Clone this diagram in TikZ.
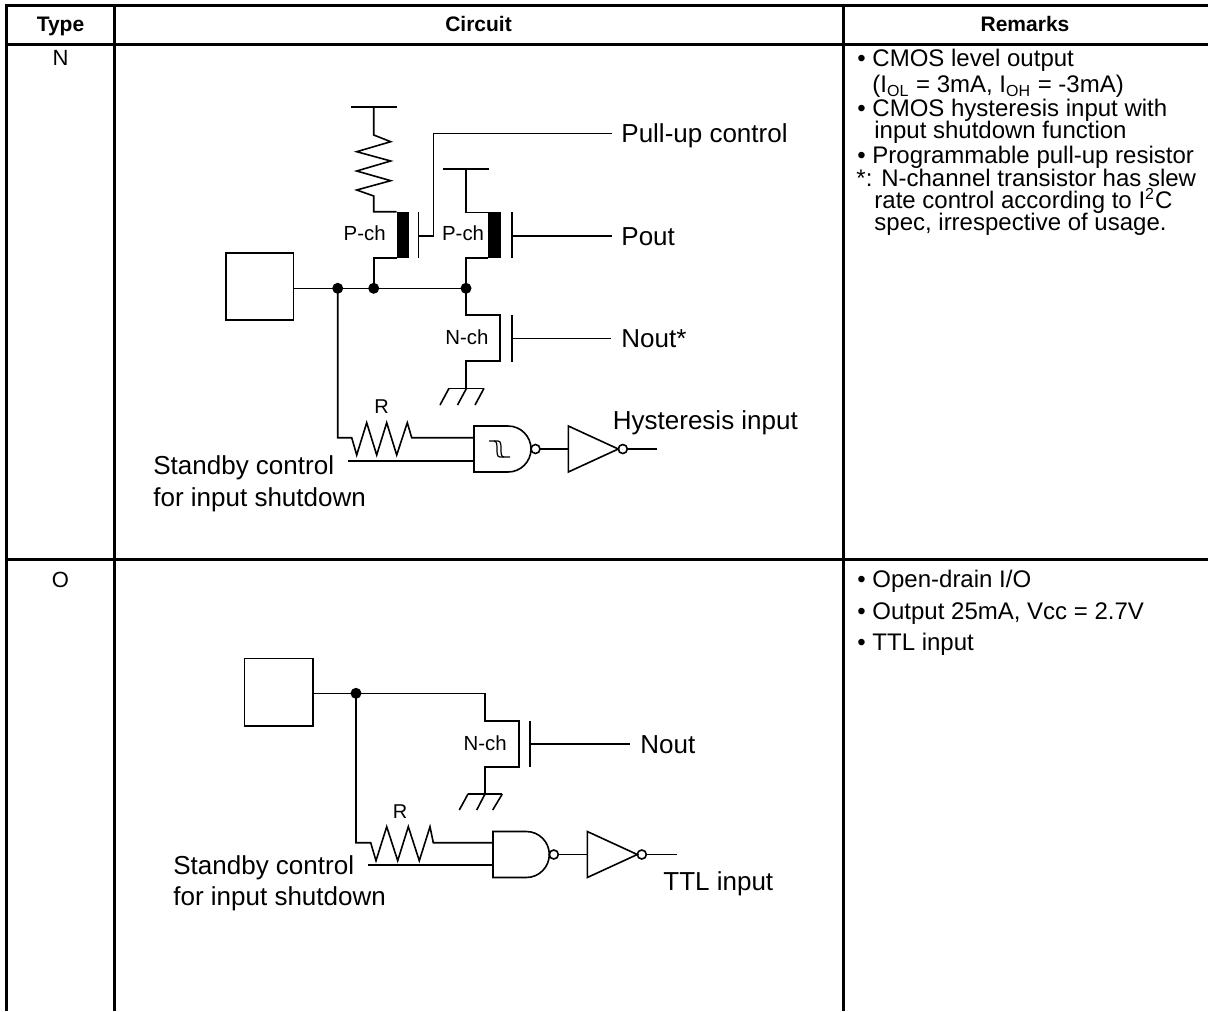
\documentclass[tikz,border=0pt]{standalone}
\usepackage{fontspec}
\setmainfont{Liberation Sans}
\begin{document}
\begin{tikzpicture}[x=0.5pt,y=-0.5pt,
  tbl/.style={line width=1.5pt},
  wire/.style={line width=0.8pt},
  barfill/.style={fill=black},
  jdot/.style={fill=black},
  lbl/.style={font=\fontsize{13}{15}\selectfont, inner sep=0pt, anchor=base west},
  smalllbl/.style={font=\fontsize{10.2}{12}\selectfont, inner sep=0pt, anchor=base west},
  rlbl/.style={font=\fontsize{10}{12}\selectfont, inner sep=0pt, anchor=base},
  rem/.style={font=\fontsize{12}{14}\selectfont, inner sep=0pt, anchor=base west},
  hdr/.style={font=\bfseries\fontsize{10.5}{12}\selectfont, inner sep=0pt, anchor=base},
  rowlbl/.style={font=\fontsize{11}{13}\selectfont, inner sep=0pt, anchor=base},
  hys/.style={line width=0.6pt},
]
\useasboundingbox (0,0) rectangle (1208,1011);

% ---------------- table ----------------
\draw[tbl] (6.5,1011) -- (6.5,6) -- (1208,6);
\draw[tbl] (6.5,44.5) -- (1208,44.5);
\draw[tbl] (6.5,559) -- (1208,559);
\draw[tbl] (114,6) -- (114,1011);
\draw[tbl] (843,6) -- (843,1011);

\node[hdr] (hType) at (60.5,32) {Type};
\node[hdr] (hCirc) at (478.5,32) {Circuit};
\node[hdr] (hRem) at (1025,32) {Remarks};
\node[rowlbl] (rowN) at (60.5,66) {N};
\node[rowlbl] (rowO) at (60.5,587) {O};

% ---------------- remarks ----------------
\node[rem] (r1) at (857,67) {\textbullet\ CMOS level output};
\node[rem] (r2) at (872,92.5) {(I\textsubscript{OL} = 3mA, I\textsubscript{OH} = -3mA)};
\node[rem] (r3) at (857,116.5) {\textbullet\ CMOS hysteresis input with};
\node[rem] (r4) at (874,138.5) {input shutdown function};
\node[rem] (r5) at (857,163) {\textbullet\ Programmable pull-up resistor};
\node[rem] (r6) at (856,186.5) {*: N-channel transistor has slew};
\node[rem] (r7) at (874,208.5) {rate control according to I\textsuperscript{2}C};
\node[rem] (r8) at (874,230.5) {spec, irrespective of usage.};

\node[rem] (s1) at (857,587) {\textbullet\ Open-drain I/O};
\node[rem] (s2) at (857,619) {\textbullet\ Output 25mA, Vcc = 2.7V};
\node[rem] (s3) at (857,650.5) {\textbullet\ TTL input};

% ---------------- circuit N ----------------
\draw[wire] (226,252.7) rectangle (293.3,320);
\coordinate (padN) at (293.3,288.3);
\coordinate (j1) at (337.7,288.3);
\coordinate (j2) at (373.7,288.3);
\coordinate (j3) at (466,288.3);
\draw[wire] (padN) -- (j3);

% pull-up resistor + P-ch 1
\draw[wire] (351,107.3) -- (396.7,107.3);
\draw[wire] (373.7,107.3) -- (373.7,135) -- (390.7,141.7) -- (356.7,151.7) -- (390.7,161)
  -- (356.7,171) -- (390.7,180.7) -- (356.7,190) -- (373.7,196) -- (373.7,211.7) -- (396.7,211.7);
\fill[barfill] (396.7,211.7) rectangle (409,257.7);
\draw[wire] (396.7,257.7) -- (373.7,257.7) -- (j2);
\draw[wire] (418.3,212) -- (418.3,258);
\draw[wire] (418.3,236) -- (433.3,236) -- (433.3,133.3) -- (611.7,133.3);
\node[smalllbl] (pch1) at (343.3,240) {P-ch};

% P-ch 2
\draw[wire] (443.3,169) -- (489,169);
\draw[wire] (466,169) -- (466,212.3) -- (488.3,212.3);
\fill[barfill] (488.3,212.3) rectangle (501,258);
\draw[wire] (488.3,258) -- (466,258) -- (j3);
\draw[wire] (511.7,212) -- (511.7,258);
\draw[wire] (511.7,235.7) -- (611.7,235.7);
\node[smalllbl] (pch2) at (441.7,240) {P-ch};

% N-ch
\draw[wire] (j3) -- (466,315) -- (500,315) -- (500,361) -- (466,361) -- (466,388.3);
\draw[wire] (449,388.3) -- (484,388.3);
\draw[wire] (449,388.3) -- (440,405);
\draw[wire] (466.5,388.3) -- (457.5,405);
\draw[wire] (484,388.3) -- (475,405);
\draw[wire] (511.7,315) -- (511.7,361.7);
\draw[wire] (511.7,338.3) -- (611,338.3);
\node[smalllbl] (nch1) at (445,344) {N-ch};

% input path
\draw[wire] (j1) -- (337.7,437.7) -- (351.7,437.7) -- (356.7,455) -- (366.7,422.7) -- (376.7,455)
  -- (386.7,422.7) -- (396.7,455) -- (407.3,422.7) -- (411.7,437.7) -- (474,437.7);
\node[rlbl] (rN) at (381.7,413.3) {R};
\draw[wire] (348.3,461) -- (474,461);
% NAND with hysteresis
\draw[wire] (474,426) -- (508,426) arc[start angle=90,end angle=-90,radius=11.5pt] -- (474,472) -- cycle;
\draw[hys] (489,441) -- (494,441) .. controls (500,441) and (494,457) .. (500,457) -- (504,457);
\draw[hys] (494,441) -- (498,441) .. controls (504,441) and (498,457) .. (504,457) -- (510,457);
\draw[wire] (535.5,449) circle[radius=2.25pt];
\draw[wire] (540,449) -- (568.3,449);
\draw[wire] (568.3,426) -- (618.3,449) -- (568.3,472) -- cycle;
\draw[wire] (622.8,449) circle[radius=2.25pt];
\draw[wire] (627.3,449) -- (656.7,449);

\fill[jdot] (j1) circle[radius=2.75pt];
\fill[jdot] (j2) circle[radius=2.75pt];
\fill[jdot] (j3) circle[radius=2.75pt];

\node[lbl] (puc) at (621,142) {Pull-up control};
\node[lbl] (pout) at (621,245) {Pout};
\node[lbl] (nout1) at (621,347.5) {Nout*};
\node[lbl] (hyst) at (612.5,429.3) {Hysteresis input};
\node[lbl] (sb1) at (153,474) {Standby control};
\node[lbl] (sb1b) at (153,506) {for input shutdown};

% ---------------- circuit O ----------------
\draw[wire] (244.3,658.3) rectangle (312.7,726);
\coordinate (padO) at (312.7,693.3);
\coordinate (k1) at (356,693.3);
\draw[wire] (padO) -- (485,693.3) -- (485,721) -- (519,721) -- (519,766.7) -- (485,766.7) -- (485,794);
\draw[wire] (468,794) -- (502.3,794);
\draw[wire] (468,794) -- (459.3,810);
\draw[wire] (485,794) -- (476.7,810);
\draw[wire] (502.3,794) -- (492.7,810);
\draw[wire] (530,721) -- (530,766.7);
\draw[wire] (530,744) -- (630,744);
\node[smalllbl] (nch2) at (463.3,750) {N-ch};

\draw[wire] (k1) -- (356,842.7) -- (370.7,842.7) -- (376,860.7) -- (386.7,826.7) -- (397.7,860.7)
  -- (408.3,826.7) -- (419.3,860.7) -- (430,826.7) -- (433.3,842.7) -- (493,842.7);
\node[rlbl] (rO) at (400,818.3) {R};
\draw[wire] (368.3,865) -- (493,865);
\draw[wire] (493,831.5) -- (526.3,831.5) arc[start angle=90,end angle=-90,radius=11.5pt] -- (493,877.5) -- cycle;
\draw[wire] (553.8,854.5) circle[radius=2.25pt];
\draw[wire] (558.3,854.5) -- (587.3,854.5);
\draw[wire] (587.3,831.5) -- (637.3,854.5) -- (587.3,877.5) -- cycle;
\draw[wire] (641.8,854.5) circle[radius=2.25pt];
\draw[wire] (646.3,854.5) -- (676.7,854.5);
\fill[jdot] (k1) circle[radius=2.75pt];

\node[lbl] (nout2) at (640,753.5) {Nout};
\node[lbl] (ttl) at (663,890) {TTL input};
\node[lbl] (sb2) at (173,874) {Standby control};
\node[lbl] (sb2b) at (173,905.5) {for input shutdown};
\end{tikzpicture}
\end{document}
